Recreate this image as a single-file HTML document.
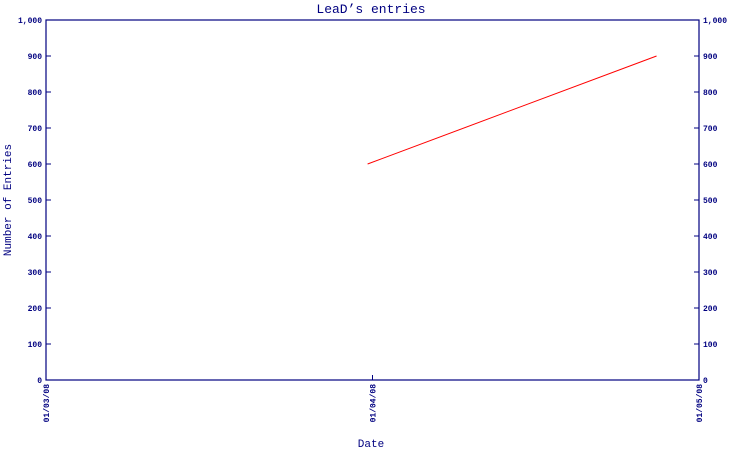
<!DOCTYPE html>
<html><head><meta charset="utf-8"><style>
body{margin:0;background:#fff;width:750px;height:450px;overflow:hidden}
svg text{font-family:"Liberation Mono",monospace;fill:#000080}
</style></head><body>
<svg width="750" height="450" xmlns="http://www.w3.org/2000/svg">
<text x="371" y="13" font-size="13" text-anchor="middle">LeaD’s entries</text>
<text x="371" y="447" font-size="11" text-anchor="middle">Date</text>
<text transform="translate(11,200) rotate(-90)" font-size="11" text-anchor="middle">Number of Entries</text>
<g id="axes"></g>
<g id="marks"></g>
</svg>
<script>
const yTicks=[0,100,200,300,400,500,600,700,800,900,1000];
const yTickLabels=["0","100","200","300","400","500","600","700","800","900","1,000"];
const xTicks=[0,1,2];
const xTickLabels=["01/03/08","01/04/08","01/05/08"];
// x values in months since 01/03/08 (fractional)
const seriesX=[0.985,1.87];
const seriesY=[600,900];
const L=46,R=699,T=20,B=380;
const ys=v=>B-(v/1000)*(B-T);
const xs=v=>L+(v/2)*(R-L);
const NS="http://www.w3.org/2000/svg";
const ax=document.getElementById('axes'),mk=document.getElementById('marks');
function mkEl(t,a,p){const e=document.createElementNS(NS,t);for(const k in a)e.setAttribute(k,a[k]);p.appendChild(e);return e;}
const frame=mkEl('rect',{x:L,y:T,width:R-L,height:B-T,fill:'none',stroke:'#000080','stroke-width':1.2},ax);


yTicks.forEach((v,i)=>{
  const y=ys(v);
  const t1=mkEl('line',{x1:L,x2:L+5,y1:y,y2:y,stroke:'#000080'},ax);
  
  
  const t2=mkEl('line',{x1:R-5,x2:R,y1:y,y2:y,stroke:'#000080'},ax);
  
  
  const a=mkEl('text',{x:L-4,y:y+3,'font-size':8,'font-weight':'bold','text-anchor':'end'},ax);a.textContent=yTickLabels[i];
  
  
  const b=mkEl('text',{x:R+4,y:y+3,'font-size':8,'font-weight':'bold'},ax);b.textContent=yTickLabels[i];
  
  
});
xTicks.forEach((v,i)=>{
  const x=xs(v);
  const t=mkEl('line',{x1:x,x2:x,y1:B-5,y2:B,stroke:'#000080'},ax);
  
  
  const l=mkEl('text',{transform:`translate(${x+3},384) rotate(-90)`,'font-size':8,'font-weight':'bold','text-anchor':'end'},ax);
  l.textContent=xTickLabels[i];
  
  
});
const pts=seriesX.map((v,i)=>xs(v)+','+ys(seriesY[i])).join(' ');
const line=mkEl('polyline',{points:pts,fill:'none',stroke:'#ff0000','stroke-width':1},mk);


</script>
</body></html>
